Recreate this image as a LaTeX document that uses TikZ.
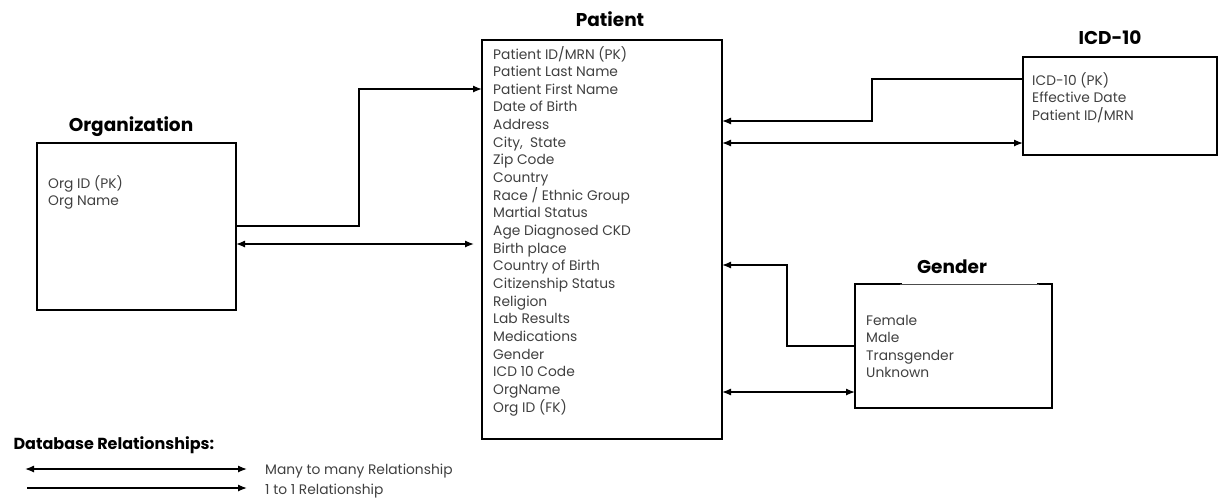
\documentclass[tikz,border=0pt]{standalone}
\usepackage{fontspec}
\setmainfont{Poppins}
\usetikzlibrary{arrows.meta}

\tikzset{
  table/.style={draw,line width=1.8pt,inner sep=0pt,outer sep=0pt,anchor=north west},
  title/.style={font=\fontsize{18.5}{20}\selectfont\bfseries},
  field/.style={font=\fontsize{13.8}{16}\selectfont,text=black!75,anchor=base west,inner sep=0pt},
  link/.style={line width=1.3pt},
  one/.style={link,-{Latex[length=9pt,width=7pt]}},
  many/.style={link,{Latex[length=9pt,width=7pt]}-{Latex[length=9pt,width=7pt]}},
}

\begin{document}
\begin{tikzpicture}[x=1pt,y=-1pt]
\useasboundingbox (0,0) rectangle (1218,499);

% tables
\node[table,minimum width=199pt,minimum height=167pt] (org) at (37,143) {};
\node[table,minimum width=240pt,minimum height=399pt] (patient) at (482,40) {};
\node[table,minimum width=194pt,minimum height=98pt] (icd) at (1023,57) {};
\node[table,minimum width=197pt,minimum height=124pt] (gender) at (855,284) {};
\draw[white,line width=2pt] (902,284)--(1037,284);
\draw[black!70,line width=1pt] (900,284)--(1039,284);

% titles
\node[title] (orgtitle) at (131,127) {Organization};
\node[title] (pattitle) at (610,19) {Patient};
\node[title] (icdtitle) at (1110,38) {ICD-10};
\node[title] (gentitle) at (952,267) {Gender};

% fields
\foreach \t [count=\i] in {Org ID (PK),Org Name}
  \node[field] (o\i) at (48,188+17*\i-17) {\t};
\foreach \t [count=\i] in {Patient ID/MRN (PK),Patient Last Name,Patient First Name,
  Date of Birth,Address,{City,\ \ State},Zip Code,Country,Race / Ethnic Group,
  Martial Status,Age Diagnosed CKD,Birth place,Country of Birth,Citizenship Status,
  Religion,Lab Results,Medications,Gender,ICD 10 Code,OrgName,Org ID (FK)}
  \node[field] (p\i) at (493,59+17.65*\i-17.65) {\t};
\foreach \t [count=\i] in {ICD-10 (PK),Effective Date,Patient ID/MRN}
  \node[field] (c\i) at (1032,85+17.5*\i-17.5) {\t};
\foreach \t [count=\i] in {Female,Male,Transgender,Unknown}
  \node[field] (g\i) at (866,325+17.6*\i-17.6) {\t};

% relationships
\draw[one] (org.east |- 0,226) -| (359,89) -- (patient.west |- 0,89);
\draw[many,shorten >=8pt] (org.east |- 0,244) -- (patient.west |- 0,244);
\draw[one] (icd.west |- 0,79) -| (872,121) -- (patient.east |- 0,121);
\draw[many] (patient.east |- 0,143) -- (icd.west |- 0,143);
\draw[one] (gender.west |- 0,346) -| (787,265) -- (patient.east |- 0,265);
\draw[many] (patient.east |- 0,392) -- (gender.west |- 0,392);

% legend
\node[title,font=\fontsize{16}{18}\selectfont\bfseries,anchor=base west] (legend) at (10,449) {Database Relationships:};
\coordinate (m1) at (25,469);\coordinate (m2) at (247,469);
\coordinate (s1) at (27,488);\coordinate (s2) at (247,488);
\draw[many] (m1) -- (m2);
\draw[one] (s1) -- (s2);
\node[field] (mtext) at (265,474) {Many to many Relationship};
\node[field] (stext) at (265,494) {1 to 1 Relationship};
\end{tikzpicture}
\end{document}
